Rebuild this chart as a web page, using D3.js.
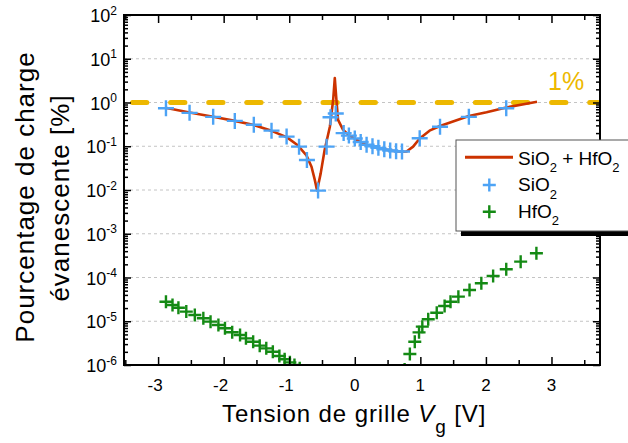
<!DOCTYPE html>
<html><head><meta charset="utf-8">
<script src="https://cdn.jsdelivr.net/npm/d3@7"></script>
<style>
html,body{margin:0;padding:0;background:#fff;}
svg{display:block;font-family:"Liberation Sans",Arial,Helvetica,sans-serif;}
</style></head><body>
<svg id="c" width="628" height="443"></svg>
<script>
// ---------- data ----------
const xTicks = [-3, -2, -1, 0, 1, 2, 3];
const xMinor = [-3.5, -2.5, -1.5, -0.5, 0.5, 1.5, 2.5, 3.5];
const yExps = [2, 1, 0, -1, -2, -3, -4, -5, -6];
const gridExps = [1, 0, -1, -2, -3, -4, -5];
const thresholdValue = 1;
const thresholdLabel = "1%";

// SiO2 + HfO2 (line)
const sumV = [-2.87, -2.52, -2.16, -1.83, -1.54, -1.27, -1.04, -0.87, -0.74, -0.66, -0.61, -0.575, -0.52, -0.46, -0.38, -0.33, -0.305, -0.28, -0.255, -0.18, -0.09, 0.0, 0.09, 0.18, 0.27, 0.36, 0.45, 0.54, 0.63, 0.72, 0.79, 0.89, 0.99, 1.14, 1.30, 1.74, 2.01, 2.31, 2.78];
const sumP = [0.75, 0.59, 0.47, 0.38, 0.305, 0.225, 0.162, 0.105, 0.063, 0.034, 0.017, 0.0098, 0.024, 0.082, 0.28, 1.14, 3.6, 1.14, 0.40, 0.24, 0.18, 0.15, 0.125, 0.108, 0.099, 0.092, 0.085, 0.080, 0.077, 0.075, 0.076, 0.098, 0.15, 0.227, 0.29, 0.49, 0.60, 0.77, 1.04];

// SiO2 (blue markers)
const sioV = [-2.88, -2.52, -2.16, -1.83, -1.54, -1.27, -1.04, -0.85, -0.73, -0.56, -0.43, -0.37, -0.29, -0.17, -0.09, 0.0, 0.09, 0.18, 0.27, 0.36, 0.45, 0.54, 0.63, 0.72, 0.99, 1.30, 1.74, 2.31];
const sioP = [0.74, 0.58, 0.47, 0.38, 0.31, 0.227, 0.166, 0.098, 0.0485, 0.0097, 0.098, 0.46, 0.56, 0.20, 0.175, 0.15, 0.125, 0.108, 0.10, 0.092, 0.085, 0.080, 0.077, 0.076, 0.152, 0.28, 0.47, 0.74];

// HfO2 (green markers)
const hfoV = [-2.88, -2.78, -2.69, -2.57, -2.44, -2.31, -2.20, -2.08, -1.98, -1.87, -1.75, -1.66, -1.55, -1.45, -1.35, -1.25, -1.15, -1.07, -0.99, -0.92, -0.84,
              0.76, 0.84, 0.915, 0.98, 1.03, 1.12, 1.25, 1.37, 1.46, 1.58, 1.75, 1.93, 2.11, 2.31, 2.53, 2.77];
const hfoP = [2.8e-5, 2.35e-5, 2.04e-5, 1.66e-5, 1.39e-5, 1.17e-5, 9.8e-6, 8.2e-6, 6.9e-6, 5.6e-6, 4.85e-6, 4.07e-6, 3.41e-6, 2.77e-6, 2.40e-6, 2.01e-6, 1.61e-6, 1.35e-6, 1.15e-6, 1.0e-6, 8.4e-7,
              7.9e-7, 1.78e-6, 3.41e-6, 5.58e-6, 7.52e-6, 1.107e-5, 1.57e-5, 2.23e-5, 2.8e-5, 3.65e-5, 5.18e-5, 7.36e-5, 1.08e-4, 1.54e-4, 2.30e-4, 3.57e-4];

const legendLabels = [["SiO", "2", " + HfO", "2"], ["SiO", "2"], ["HfO", "2"]];

// ---------- layout ----------
const L = 124, R = 600, T = 15, B = 365;
const COL_RED = "#CC3300", COL_BLUE = "#4DA3F5", COL_GREEN = "#148A14", COL_GOLD = "#EDB800";

const svg = d3.select("#c");
const x = d3.scaleLinear().domain([-3.52, 3.74]).range([L, R]);
const y = d3.scaleLog().domain([1e-6, 1e2]).range([B, T]);

svg.append("defs").append("clipPath").attr("id", "clip")
  .append("rect").attr("x", L).attr("y", T).attr("width", R - L).attr("height", B - T);

// grid
svg.append("g").selectAll("line").data(gridExps).join("line")
  .attr("x1", L).attr("x2", R)
  .attr("y1", d => y(Math.pow(10, d))).attr("y2", d => y(Math.pow(10, d)))
  .attr("stroke", "#c4c4c4").attr("stroke-width", 1).attr("stroke-dasharray", "3,3");

// 1% threshold line
svg.append("path")
  .attr("d", d3.line()([[L + 8.5, y(thresholdValue)], [R - 2, y(thresholdValue)]]))
  .attr("stroke", COL_GOLD).attr("stroke-width", 5).attr("stroke-linecap", "round")
  .attr("stroke-dasharray", "14.3,23.8").attr("fill", "none");
svg.append("text").attr("x", 548).attr("y", 90).attr("fill", COL_GOLD)
  .attr("font-size", 25).text(thresholdLabel);

// red line
const sumData = sumV.map((v, i) => [v, sumP[i]]);
svg.append("path").datum(sumData)
  .attr("d", d3.line().x(d => x(d[0])).y(d => y(d[1])))
  .attr("fill", "none").attr("stroke", COL_RED).attr("stroke-width", 2.6)
  .attr("stroke-linejoin", "round");

function plus(sel, size) {
  const h = size / 2;
  return sel.attr("d", `M${-h},0H${h}M0,${-h}V${h}`);
}
const gm = svg.append("g").attr("clip-path", "url(#clip)");
// blue markers
gm.append("g").selectAll("path").data(sioV.map((v, i) => [v, sioP[i]])).join("path")
  .call(plus, 16)
  .attr("transform", d => `translate(${x(d[0])},${y(d[1])})`)
  .attr("stroke", COL_BLUE).attr("stroke-width", 2.4).attr("fill", "none");
// green markers
gm.append("g").selectAll("path").data(hfoV.map((v, i) => [v, hfoP[i]])).join("path")
  .call(plus, 13)
  .attr("transform", d => `translate(${x(d[0])},${y(d[1])})`)
  .attr("stroke", COL_GREEN).attr("stroke-width", 2.4).attr("fill", "none");

// ---------- axes ----------
const minorY = [];
for (let e = -6; e < 2; e++) for (let m = 2; m <= 9; m++) minorY.push(m * Math.pow(10, e));
const majorY = yExps.map(e => Math.pow(10, e));

function styleAxis(g) {
  g.select(".domain").remove();
  g.selectAll("line").attr("stroke", "#000").attr("stroke-width", 1.5);
  g.selectAll("text").remove();
}
svg.append("g").attr("transform", `translate(${L},0)`)
  .call(d3.axisLeft(y).tickValues(majorY).tickSizeInner(-7).tickSizeOuter(0)).call(styleAxis);
svg.append("g").attr("transform", `translate(${L},0)`)
  .call(d3.axisLeft(y).tickValues(minorY).tickSizeInner(-4).tickSizeOuter(0)).call(styleAxis);
svg.append("g").attr("transform", `translate(${R},0)`)
  .call(d3.axisRight(y).tickValues(majorY).tickSizeInner(-7).tickSizeOuter(0)).call(styleAxis);
svg.append("g").attr("transform", `translate(${R},0)`)
  .call(d3.axisRight(y).tickValues(minorY).tickSizeInner(-4).tickSizeOuter(0)).call(styleAxis);
svg.append("g").attr("transform", `translate(0,${B})`)
  .call(d3.axisBottom(x).tickValues(xTicks).tickSizeInner(-8).tickSizeOuter(0)).call(styleAxis);
svg.append("g").attr("transform", `translate(0,${B})`)
  .call(d3.axisBottom(x).tickValues(xMinor.filter(v => x(v) > L && x(v) < R)).tickSizeInner(-5).tickSizeOuter(0)).call(styleAxis);
svg.append("g").attr("transform", `translate(0,${T})`)
  .call(d3.axisTop(x).tickValues(xTicks).tickSizeInner(-8).tickSizeOuter(0)).call(styleAxis);
svg.append("g").attr("transform", `translate(0,${T})`)
  .call(d3.axisTop(x).tickValues(xMinor.filter(v => x(v) > L && x(v) < R)).tickSizeInner(-5).tickSizeOuter(0)).call(styleAxis);

svg.append("rect").attr("x", L).attr("y", T).attr("width", R - L).attr("height", B - T)
  .attr("fill", "none").attr("stroke", "#000").attr("stroke-width", 2);

// y tick labels
const yl = svg.append("g").attr("font-size", 18).attr("fill", "#000");
yExps.forEach(e => {
  const t = yl.append("text").attr("x", 117).attr("y", y(Math.pow(10, e)) + 7).attr("text-anchor", "end");
  t.append("tspan").text("10");
  t.append("tspan").attr("font-size", 12).attr("dy", -7.5).text(String(e).replace("-", "-"));
});
// x tick labels
const xl = svg.append("g").attr("font-size", 17).attr("fill", "#000");
xTicks.forEach(v => {
  xl.append("text").attr("x", x(v) - (v < 0 ? 3 : 0)).attr("y", 391)
    .attr("text-anchor", "middle").text(String(v));
});

// axis titles
const xt = svg.append("text").attr("x", 222).attr("y", 421.5).attr("font-size", 24)
  .attr("letter-spacing", "0.9px").attr("fill", "#000");
xt.append("tspan").text("Tension de grille ");
xt.append("tspan").attr("font-style", "italic").text("V");
xt.append("tspan").attr("font-size", 19).attr("dy", 11).text("g");
xt.append("tspan").attr("dy", -11).text(" [V]");

const yt = svg.append("g").attr("font-size", 26).attr("fill", "#000").attr("letter-spacing", "1px");
yt.append("text").attr("transform", "translate(33.5,197) rotate(-90)").attr("text-anchor", "middle")
  .text("Pourcentage de charge");
yt.append("text").attr("transform", "translate(68.5,198) rotate(-90)").attr("text-anchor", "middle")
  .text("évanescente [%]");

// ---------- legend ----------
const lg = svg.append("g");
lg.append("rect").attr("x", 461).attr("y", 145).attr("width", 200).attr("height", 91).attr("fill", "#000");
lg.append("rect").attr("x", 456).attr("y", 140).attr("width", 200).attr("height", 91)
  .attr("fill", "#fff").attr("stroke", "#555").attr("stroke-width", 1);
lg.append("line").attr("x1", 465).attr("x2", 513).attr("y1", 157.3).attr("y2", 157.3)
  .attr("stroke", COL_RED).attr("stroke-width", 3);
lg.append("path").call(plus, 13).attr("transform", "translate(489.3,185)")
  .attr("stroke", COL_BLUE).attr("stroke-width", 2.4).attr("fill", "none");
lg.append("path").call(plus, 13).attr("transform", "translate(489.3,211.7)")
  .attr("stroke", COL_GREEN).attr("stroke-width", 2.4).attr("fill", "none");
const baselines = [164.5, 191, 217.5];
legendLabels.forEach((parts, i) => {
  const t = lg.append("text").attr("x", 518).attr("y", baselines[i]).attr("font-size", 19).attr("fill", "#000");
  parts.forEach((p, j) => {
    if (j % 2 === 1) t.append("tspan").attr("font-size", 13).attr("dy", 7.5).text(p);
    else t.append("tspan").attr("dy", j === 0 ? 0 : -7.5).text(p);
  });
});
</script>
</body></html>
